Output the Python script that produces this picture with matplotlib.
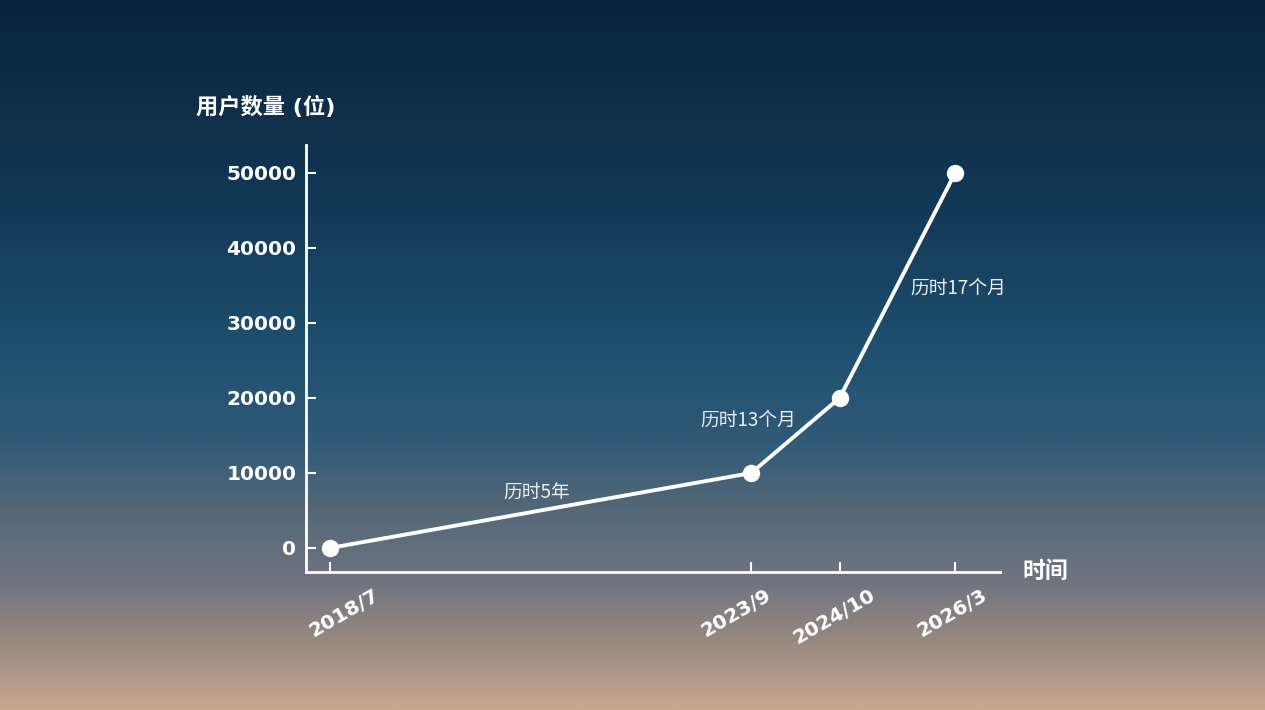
import matplotlib
matplotlib.use("Agg")
import matplotlib.pyplot as plt
import matplotlib.transforms as mtrans
import numpy as np
from matplotlib.colors import LinearSegmentedColormap

# Data
dates = ["2018/7", "2023/9", "2024/10", "2026/3"]
months = [0, 62, 75, 92]          # months since 2018/7
users = [0, 10000, 20000, 50000]
yticks = [0, 10000, 20000, 30000, 40000, 50000]
notes = ["历时5年", "历时13个月", "历时17个月"]
note_pos = [(30.5, 7450), (61.5, 17050), (92.5, 34650)]

CJK = ["Noto Sans CJK SC", "DejaVu Sans"]
LAT = ["DejaVu Sans", "Noto Sans CJK SC"]

fig = plt.figure(figsize=(12.65, 7.1), dpi=100)

# gradient background
bg = fig.add_axes([0, 0, 1, 1], zorder=-10)
stops = [(0.0, "#09243c"), (0.3, "#123a58"), (0.5, "#205070"), (0.62, "#2f5a78"),
         (0.72, "#546878"), (0.82, "#6f7480"), (0.9, "#968880"), (1.0, "#c8a790")]
cmap = LinearSegmentedColormap.from_list("bg", stops)
grad = np.linspace(0, 1, 512).reshape(-1, 1)
bg.imshow(grad, aspect="auto", cmap=cmap, extent=[0, 1, 0, 1], origin="upper")
bg.set_axis_off()

ax = fig.add_axes([306/1265, 1-572/710, 694/1265, (572-145)/710])
ax.patch.set_alpha(0)
ax.set_xlim(-3.5, 98.6)
ax.set_ylim(-3200, 53733)

ax.plot(months, users, color="white", lw=2.8, marker="o", markersize=11.5,
        markerfacecolor="white", markeredgecolor="white", zorder=3, clip_on=False)

for s in ["top", "right"]:
    ax.spines[s].set_visible(False)
for s in ["left", "bottom"]:
    ax.spines[s].set_color("white")
    ax.spines[s].set_linewidth(2)

ax.set_xticks(months)
ax.set_xticklabels(dates, rotation=30, ha="center", va="top",
                   fontsize=14.5, fontweight="bold", color="white", family=LAT)
ax.set_yticks(yticks)
ax.set_yticklabels([str(v) for v in yticks], fontsize=14.5, fontweight="bold",
                   color="white", family=LAT)
ax.tick_params(axis="both", direction="in", length=7, width=1.5, color="white")
ax.tick_params(axis="x", pad=10)
ax.tick_params(axis="y", pad=7)

# small horizontal nudges of rotated date labels (pixels)
nudges = [14, -15, -5, -3]
for lab, dx in zip(ax.get_xticklabels(), nudges):
    lab.set_transform(lab.get_transform() + mtrans.ScaledTranslation(dx / 100, 0, fig.dpi_scale_trans))

for t, (x, y) in zip(notes, note_pos):
    ax.text(x, y, t, fontsize=13.5, color="#eeeeee", ha="center", va="center", family=CJK)

fig.text(196/1265, 1-107/710, "用户数量 (位)", fontsize=16, fontweight="bold",
         color="white", ha="left", va="center", family=["DejaVu Sans", "Noto Sans CJK SC"])
fig.text(1022/1265, 1-571/710, "时间", fontsize=16.5, fontweight="bold",
         color="white", ha="left", va="center", family=CJK)

fig.savefig("out.png", dpi=100)
